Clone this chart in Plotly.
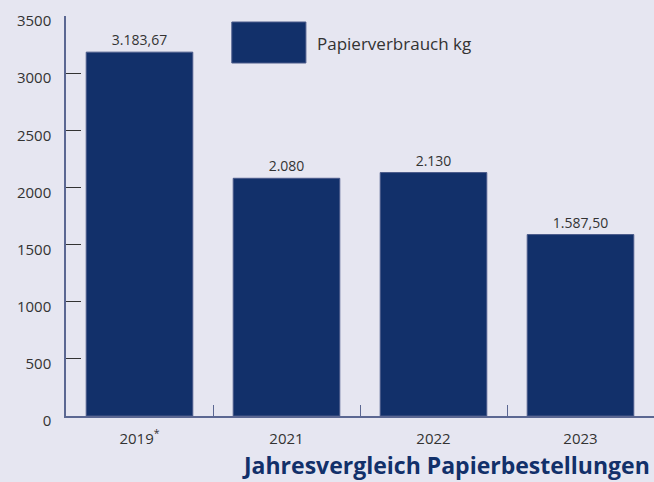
import plotly.graph_objects as go

years = ["2019<sup>*</sup>", "2021", "2022", "2023"]
paper_kg = [3183.67, 2080, 2130, 1587.5]
value_labels = ["3.183,67", "2.080", "2.130", "1.587,50"]
y_ticks = [0, 500, 1000, 1500, 2000, 2500, 3000, 3500]

NAVY = "#12306a"
BG = "#e6e6f1"
AXIS = "#5b6792"
TEXT = "#333333"

fig = go.Figure(
    go.Bar(
        x=years,
        y=paper_kg,
        text=value_labels,
        textposition="outside",
        cliponaxis=False,
        textfont={"size": 14, "color": TEXT},
        marker={"color": NAVY, "line": {"color": "#4a5a8a", "width": 1}},
        name="Papierverbrauch kg",
        showlegend=False,
    )
)

fig.update_layout(
    width=654,
    height=482,
    paper_bgcolor=BG,
    plot_bgcolor=BG,
    font={"family": "Open Sans, sans-serif", "color": TEXT},
    margin={"l": 66, "r": 0, "t": 16, "b": 66},
    bargap=0.275,
    xaxis={
        "showline": True,
        "linecolor": AXIS,
        "linewidth": 1.5,
        "ticks": "inside",
        "ticklen": 11,
        "tickcolor": AXIS,
        "tickson": "boundaries",
        "showgrid": False,
        "tickfont": {"size": 15, "color": TEXT},
        "ticklabelstandoff": 8,
    },
    yaxis={
        "range": [0, 3500],
        "tickvals": y_ticks,
        "showline": True,
        "linecolor": AXIS,
        "linewidth": 1.5,
        "ticks": "inside",
        "ticklen": 15,
        "tickcolor": "#333333",
        "showgrid": False,
        "zeroline": False,
        "tickfont": {"size": 15, "color": TEXT},
        "ticklabelstandoff": 10,
        "ticklabelshift": 5,
    },
    shapes=[
        {
            "type": "rect",
            "xref": "paper",
            "yref": "paper",
            "x0": 0.282,
            "x1": 0.408,
            "y0": 0.8825,
            "y1": 0.985,
            "fillcolor": NAVY,
            "line": {"color": "#4a5a8a", "width": 1},
        }
    ],
    annotations=[
        {
            "text": "Papierverbrauch kg",
            "xref": "paper",
            "yref": "paper",
            "x": 0.4235,
            "y": 0.93,
            "xanchor": "left",
            "yanchor": "middle",
            "showarrow": False,
            "font": {"size": 17, "color": TEXT},
        },
        {
            "text": "<b>Jahresvergleich Papierbestellungen</b>",
            "xref": "paper",
            "yref": "paper",
            "x": 0.997,
            "y": -0.122,
            "xanchor": "right",
            "yanchor": "middle",
            "showarrow": False,
            "font": {"size": 23, "color": NAVY},
        },
    ],
)

fig.write_html(
    "out.html",
    config={"displayModeBar": False},
    post_script="document.body.style.margin='0';",
)
